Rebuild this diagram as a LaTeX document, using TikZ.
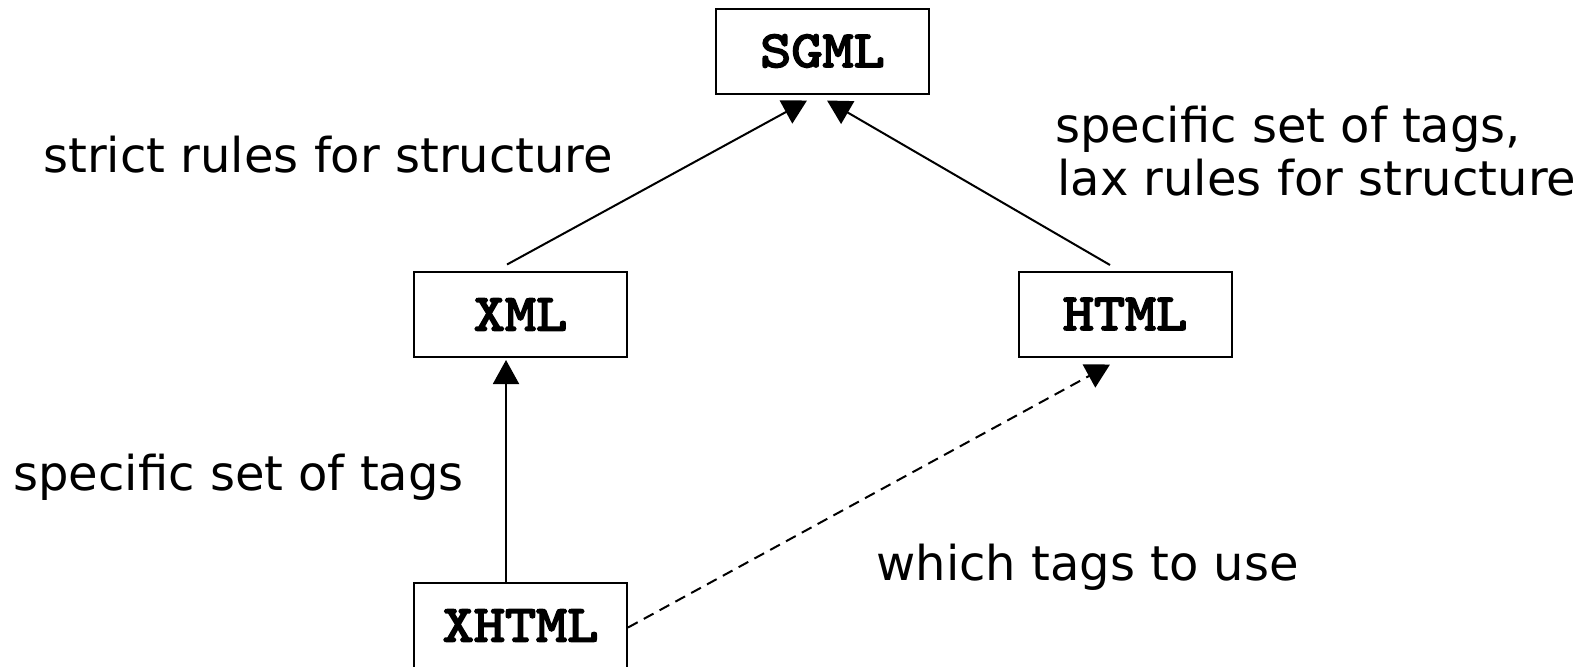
\documentclass[tikz,border=0pt]{standalone}
\usepackage{fontspec}
\setmainfont{DejaVu Sans}
\newfontfamily\langfont{lmmono10-regular.otf}[FakeBold=3.5, FakeStretch=1.14]
\usetikzlibrary{arrows.meta}

\begin{document}
\begin{tikzpicture}[x=0.5pt, y=-0.5pt,
	lang/.style={draw, line width=1pt, minimum width=106.5pt, minimum height=42.5pt, inner sep=0pt,
		font=\langfont\fontsize{26}{30}\selectfont},
	note/.style={anchor=base west, inner sep=0pt, font=\fontsize{24}{28}\selectfont},
	arr/.style={line width=1pt, -{Triangle[width=13pt,length=12pt]}}]
	\useasboundingbox (0,0) rectangle (1588,666);

	% languages
	\node[lang] (sgml) at (822.5,51) {SGML};
	\node[lang] (xml) at (520.5,314.5) {XML};
	\node[lang] (html) at (1125,314) {HTML};
	\node[lang] (xhtml) at (520.5,625.5) {XHTML};

	% derivations
	\draw[arr] ([xshift=-6.75pt,yshift=3.25pt]xml.north) -- ([xshift=-7.75pt,yshift=-3pt]sgml.south);
	\draw[arr] ([xshift=-7.5pt,yshift=2.75pt]html.north) -- ([xshift=2.25pt,yshift=-3pt]sgml.south);
	\draw[arr] ([xshift=-7.25pt]xhtml.north) -- ([xshift=-7.25pt,yshift=-1pt]xml.south);
	\draw[arr, dash pattern=on 5.5pt off 3.5pt] ([yshift=-1pt]xhtml.east) -- ([xshift=-7.5pt,yshift=-3.5pt]html.south);

	% notes
	\node[note] (strict) at (43,172) {strict rules for structure};
	\node[note] (settags) at (1055,142) {specific set of tags,};
	\node[note] (lax) at (1057,195) {lax rules for structure};
	\node[note] (xmltags) at (13,490) {specific set of tags};
	\node[note] (which) at (876,580) {which tags to use};
\end{tikzpicture}
\end{document}
